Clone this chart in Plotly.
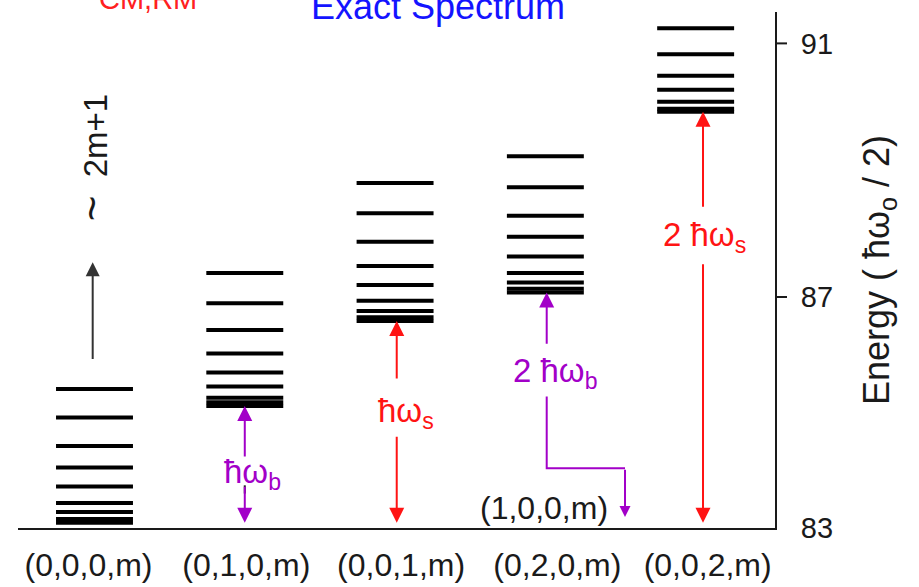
import plotly.graph_objects as go

# ---------------- data ----------------
column_labels = ["(0,0,0,m)", "(0,1,0,m)", "(0,0,1,m)", "(0,2,0,m)", "(0,0,2,m)"]
column_pos = [0, 1, 2, 3, 4]
levels_000 = [85.55, 85.10, 84.65, 84.31, 84.01, 83.75, 83.61, 83.50, 83.44]
levels_010 = [87.38, 86.90, 86.48, 86.11, 85.81, 85.59, 85.41, 85.34, 85.28]
levels_001 = [88.80, 88.32, 87.87, 87.49, 87.19, 86.94, 86.78, 86.68, 86.62]
levels_020 = [89.22, 88.73, 88.28, 87.95, 87.64, 87.38, 87.23, 87.13, 87.07]
levels_002 = [91.24, 90.83, 90.49, 90.27, 90.08, 89.97, 89.92]
all_levels = [levels_000, levels_010, levels_001, levels_020, levels_002]
level_100 = 83.53          # (1,0,0,m) ground level
y_tick_vals = [83.357, 87, 91]
y_tick_text = ["83", "87", "91"]

# ---------------- style ----------------
FONT = "Liberation Sans, Arial, Helvetica, sans-serif"
RED = "#ff1414"
PURPLE = "#a200c8"
BLACK = "#1a1a1a"
HALF = 0.256
XR = [-0.509, 4.528]
YR = [83.357, 91.495]

fig = go.Figure()

for xc, lv in zip(column_pos, all_levels):
    xs, ys = [], []
    for e in lv:
        xs += [xc - HALF, xc + HALF, None]
        ys += [e, e, None]
    fig.add_trace(go.Scatter(x=xs, y=ys, mode="lines",
                             line=dict(color="black", width=4),
                             hoverinfo="skip", showlegend=False))

ground = min(levels_000)

def arrow(x, tip, tail, color, size=1.5, width=2):
    fig.add_annotation(x=x, y=tip, ax=x, ay=tail, axref="x", ayref="y",
                       xref="x", yref="y", text="", showarrow=True,
                       arrowhead=2, arrowsize=size, arrowwidth=width,
                       arrowcolor=color)

def label(x, y, txt, color, size=31, angle=0):
    fig.add_annotation(x=x, y=y, xref="x", yref="y", text=txt, showarrow=False,
                       font=dict(family=FONT, size=size, color=color),
                       textangle=angle, xanchor="center", yanchor="middle")

# black arrow, (0,0,0,m)
arrow(-0.012, 87.55, 86.0, "#333333", size=1.4)
label(-0.02, 89.21, "<span style='font-size:44px'>~</span>  2m+1", BLACK, size=33, angle=-90)

# ħω_b arrows, (0,1,0,m)
arrow(1.0, min(levels_010), 84.46, PURPLE)
arrow(1.0, ground, 84.03, PURPLE)
fig.add_trace(go.Scatter(x=[1.0, 1.0], y=[84.03, 83.90], mode="lines",
                         line=dict(color=BLACK, width=2), hoverinfo="skip", showlegend=False))
label(1.05, 84.21, "ħω<sub>b</sub>", PURPLE, size=33)

# ħω_s arrows, (0,0,1,m)
arrow(2.011, min(levels_001), 85.69, RED)
arrow(2.011, ground, 84.82, RED)
label(2.07, 85.17, "ħω<sub>s</sub>", RED, size=33)

# 2ħω_b arrows, (0,2,0,m)
arrow(3.009, min(levels_020), 86.24, PURPLE)
label(3.065, 85.80, "2 ħω<sub>b</sub>", PURPLE, size=33)
fig.add_trace(go.Scatter(x=[3.009, 3.009, 3.53], y=[85.43, 84.30, 84.30], mode="lines",
                         line=dict(color=PURPLE, width=2), hoverinfo="skip", showlegend=False))
arrow(3.53, level_100, 84.30, PURPLE, size=1.1)
label(2.99, 83.67, "(1,0,0,m)", BLACK, size=32)

# 2ħω_s arrows, (0,0,2,m)
arrow(4.049, min(levels_002), 88.40, RED)
arrow(4.049, ground, 87.54, RED)
label(4.06, 87.95, "2 ħω<sub>s</sub>", RED, size=33)

# titles (cut at top)
fig.add_annotation(x=0.172, y=1.025, xref="paper", yref="paper", text="CM,RM",
                   showarrow=False, font=dict(family=FONT, size=29, color="#ff2020"),
                   xanchor="center", yanchor="middle")
fig.add_annotation(x=0.555, y=1.011, xref="paper", yref="paper", text="Exact Spectrum",
                   showarrow=False, font=dict(family=FONT, size=36, color="#1414ff"),
                   xanchor="center", yanchor="middle")

# tick marks for 87 and 91
for v in y_tick_vals[1:]:
    fig.add_shape(type="line", xref="paper", yref="y", x0=1.0, x1=1.0 + 12 / 757,
                  y0=v, y1=v, line=dict(color=BLACK, width=2))

fig.update_layout(
    width=919, height=587,
    margin=dict(l=18, r=144, t=12, b=59),
    paper_bgcolor="white", plot_bgcolor="white",
    font=dict(family=FONT, color=BLACK),
    xaxis=dict(range=XR, showgrid=False, zeroline=False, showline=True, automargin=False,
               linecolor=BLACK, linewidth=2,
               tickvals=[-0.04, 1.01, 2.04, 3.08, 4.08], ticktext=column_labels,
               ticks="outside", ticklen=8, tickcolor="rgba(0,0,0,0)",
               tickfont=dict(family=FONT, size=32, color=BLACK)),
    yaxis=dict(range=YR, side="right", showgrid=False, zeroline=False, showline=True,
               automargin=False,
               linecolor=BLACK, linewidth=2, tickvals=y_tick_vals, ticktext=y_tick_text,
               ticks="", ticklabelstandoff=18,
               tickfont=dict(family=FONT, size=29, color=BLACK),
               title=dict(text="Energy ( ħω<sub>o</sub> / 2)",
                          font=dict(family=FONT, size=36, color=BLACK), standoff=32)),
)

fig.write_html("out.html")
